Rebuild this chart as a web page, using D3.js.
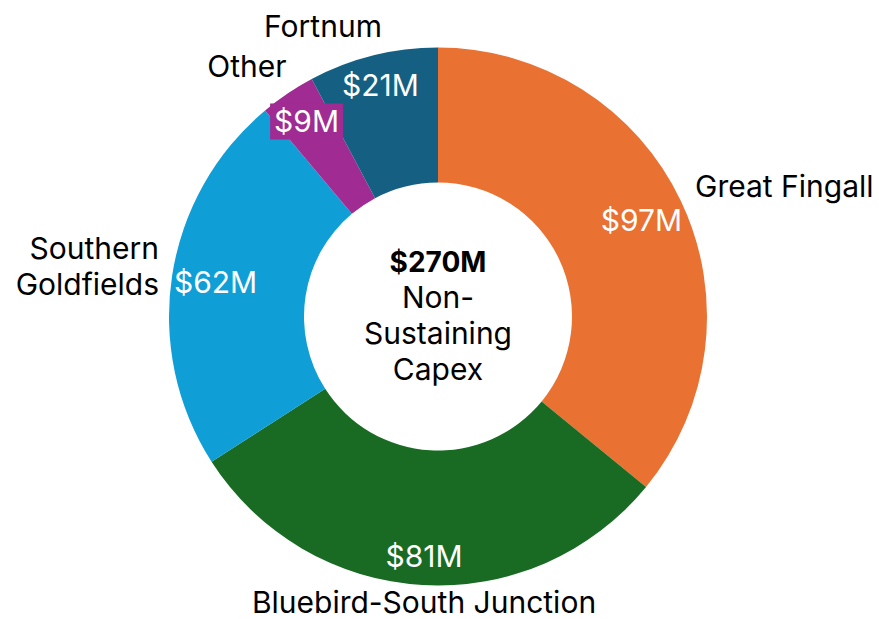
<!DOCTYPE html>
<html>
<head>
<meta charset="utf-8">
<script src="https://cdn.jsdelivr.net/npm/d3@7"></script>
<style>
  body { margin: 0; background: #fff; }
  text { font-family: Inter, "Open Sans", sans-serif; }
</style>
</head>
<body>
<div id="chart"></div>
<script>
// data
const categories = ["Great Fingall", "Bluebird-South Junction", "Southern Goldfields", "Other", "Fortnum"];
const values = [97, 81, 62, 9, 21];
const colors = ["#E97132", "#196B24", "#0F9ED5", "#A02B93", "#156082"];
const totalLabel = "$270M";
const centerLines = ["Non-", "Sustaining", "Capex"];

// layout
const width = 879, height = 619;
const cx = 438, cy = 316.5;
const outerR = 269, innerR = 134;
const fontSize = 30;

// radius of value labels (moved by hand in the original)
const valueR = [225, 240, 225, 235, 238];
// category labels: offset from centre to baseline of first line
const nameLayout = [
  { dx: 257, dy: -119.5, anchor: "start", lines: ["Great Fingall"] },
  { dx: -14, dy: 296.5, anchor: "middle", lines: ["Bluebird-South Junction"] },
  { dx: -279, dy: -57.5, anchor: "end", lines: ["Southern", "Goldfields"] },
  { dx: -191, dy: -239.5, anchor: "middle", lines: ["Other"] },
  { dx: -115, dy: -279.5, anchor: "middle", lines: ["Fortnum"] }
];

const data = categories.map((c, i) => ({ name: c, value: values[i], i }));

const svg = d3.select("#chart")
  .append("svg")
    .attr("width", width)
    .attr("height", height)
    .style("background", "#fff");

const g = svg.append("g")
  .attr("transform", `translate(${cx},${cy})`);

const pie = d3.pie()
  .value(d => d.value)
  .sort(null);

const arc = d3.arc()
  .innerRadius(innerR)
  .outerRadius(outerR);

const arcs = pie(data);

g.selectAll("path.slice")
  .data(arcs)
  .enter()
  .append("path")
    .attr("class", "slice")
    .attr("d", arc)
    .attr("fill", d => colors[d.data.i]);

// value labels
const labelPos = d => {
  const a = (d.startAngle + d.endAngle) / 2;
  const r = valueR[d.data.i];
  return [r * Math.sin(a), -r * Math.cos(a)];
};

const vl = g.selectAll("g.vlabel")
  .data(arcs)
  .enter()
  .append("g")
    .attr("class", "vlabel")
    .attr("transform", d => `translate(${labelPos(d)})`);

vl.append("text")
    .attr("text-anchor", "middle")
    .attr("dy", "0.36em")
    .style("font-size", fontSize + "px")
    .style("fill", "#fff")
    .text(d => "$" + d.data.value + "M");

// "Other" label sits on a filled box
vl.filter(d => d.data.name === "Other").each(function(d) {
  const t = d3.select(this).select("text");
  const bb = t.node().getBBox();
  d3.select(this).insert("rect", "text")
    .attr("x", bb.x - 4)
    .attr("y", bb.y)
    .attr("width", bb.width + 8)
    .attr("height", bb.height)
    .attr("fill", colors[d.data.i]);
});

// category labels
arcs.forEach(d => {
  const L = nameLayout[d.data.i];
  const t = g.append("text")
    .attr("x", L.dx)
    .attr("y", L.dy)
    .attr("text-anchor", L.anchor)
    .style("font-size", fontSize + "px")
    .style("fill", "#000");
  L.lines.forEach((line, k) => {
    t.append("tspan")
      .attr("x", L.dx)
      .attr("dy", k === 0 ? 0 : 36)
      .text(line);
  });
});

// centre text
const ct = g.append("text")
  .attr("text-anchor", "middle")
  .attr("y", -44.5)
  .style("font-size", fontSize + "px")
  .style("fill", "#000");

ct.append("tspan")
  .attr("x", 0)
  .style("font-weight", "bold")
  .style("font-size", "28px")
  .text(totalLabel);

centerLines.forEach(line => {
  ct.append("tspan")
    .attr("x", 0)
    .attr("dy", 36)
    .text(line);
});
</script>
</body>
</html>
